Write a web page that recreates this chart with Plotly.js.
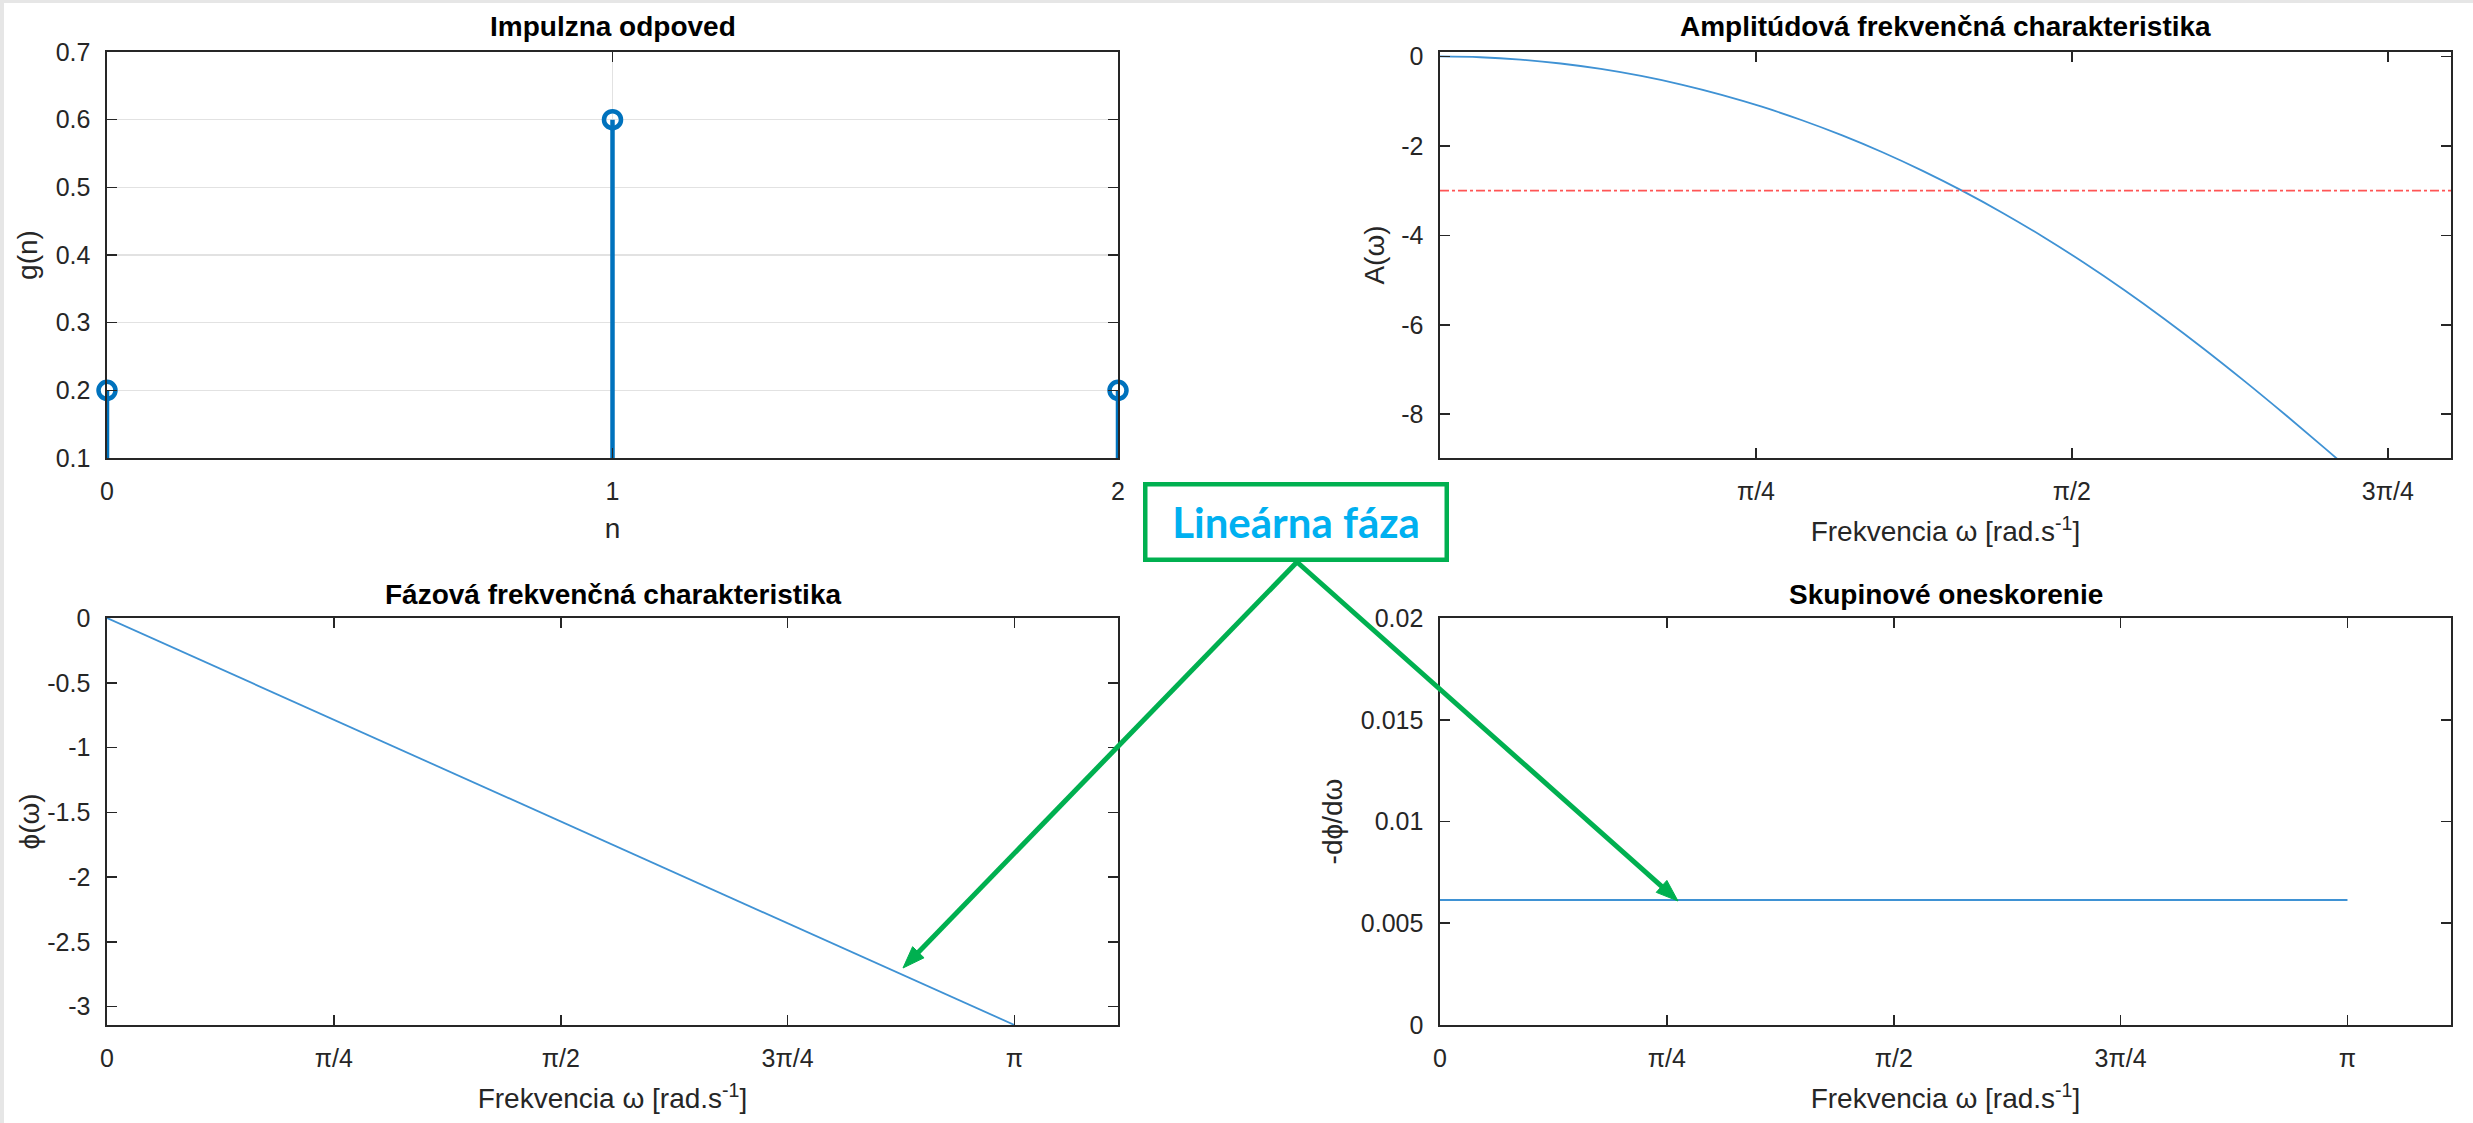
<!DOCTYPE html>
<html>
<head>
<meta charset="utf-8">
<script src="https://cdn.plot.ly/plotly-3.0.1.min.js"></script>
<style>
html,body{margin:0;padding:0;background:#fff;}
#chart{width:2473px;height:1123px;}
</style>
</head>
<body>
<div id="chart"></div>
<script>
// ---- Data ----
// Impulse response g(n)
const nIdx = [0, 1, 2];
const gVals = [0.2, 0.6, 0.2];

// Amplitude response A(omega) in dB
const ampW = [0, 0.1, 0.2, 0.3, 0.4, 0.5, 0.6, 0.7, 0.8, 0.9, 1.0, 1.1, 1.2, 1.3, 1.4, 1.5, 1.6, 1.7, 1.8, 1.9, 2.0, 2.1, 2.2, 2.3];
const ampDb = [0, -0.017, -0.070, -0.157, -0.279, -0.436, -0.629, -0.858, -1.123, -1.426, -1.765, -2.142, -2.558, -3.012, -3.505, -4.037, -4.608, -5.217, -5.864, -6.546, -7.260, -8.001, -8.764, -9.538];
const cutW = [0, 2.5133];
const cutDb = [-3, -3];

// Phase response phi(omega)
const phW = [0, 0.7854, 1.5708, 2.3562, 3.1416];
const phVals = [0, -0.7854, -1.5708, -2.3562, -3.1416];

// Group delay
const gdW = [0, 3.1416];
const gdVals = [0.00614, 0.00614];

// Tick values / labels
const nTicks = [0, 1, 2];
const nTickText = ['0', '1', '2'];
const gTicks = [0.1, 0.2, 0.3, 0.4, 0.5, 0.6, 0.7];
const gTickText = ['0.1', '0.2', '0.3', '0.4', '0.5', '0.6', '0.7'];
const ampXTicks = [0, 0.7854, 1.5708, 2.3562];
const ampXTickText = ['0', 'π/4', 'π/2', '3π/4'];
const ampYTicks = [0, -2, -4, -6, -8];
const ampYTickText = ['0', '-2', '-4', '-6', '-8'];
const wTicks = [0, 0.7854, 1.5708, 2.3562, 3.1416];
const wTickText = ['0', 'π/4', 'π/2', '3π/4', 'π'];
const phYTicks = [0, -0.5, -1, -1.5, -2, -2.5, -3];
const phYTickText = ['0', '-0.5', '-1', '-1.5', '-2', '-2.5', '-3'];
const gdYTicks = [0, 0.005, 0.01, 0.015, 0.02];
const gdYTickText = ['0', '0.005', '0.01', '0.015', '0.02'];

// ---- Build traces ----
const BLUE = '#0072BD';
const LBLUE = '#3f92d4';
const stemX = [], stemY = [];
nIdx.forEach((n, i) => { stemX.push(n, n, null); stemY.push(0, gVals[i], null); });

const traces = [
  {x: stemX, y: stemY, xaxis: 'x', yaxis: 'y', mode: 'lines', line: {color: BLUE, width: 4.5}, hoverinfo: 'skip'},
  {x: nIdx, y: gVals, xaxis: 'x', yaxis: 'y', mode: 'markers', cliponaxis: false,
   marker: {symbol: 'circle-open', size: 17, color: BLUE, line: {width: 4.5, color: BLUE}}},
  {x: ampW, y: ampDb, xaxis: 'x2', yaxis: 'y2', mode: 'lines', line: {color: LBLUE, width: 1.8, shape: 'spline'}},
  {x: cutW, y: cutDb, xaxis: 'x2', yaxis: 'y2', mode: 'lines', line: {color: '#ff5555', width: 1.6, dash: 'dashdot'}},
  {x: phW, y: phVals, xaxis: 'x3', yaxis: 'y3', mode: 'lines', line: {color: LBLUE, width: 1.8}},
  {x: gdW, y: gdVals, xaxis: 'x4', yaxis: 'y4', mode: 'lines', line: {color: LBLUE, width: 2}}
];

// ---- Layout ----
const W = 2473, H = 1123;
const F = 'Liberation Sans, Arial, Helvetica, sans-serif';
const AX = '#262626';
function axis(extra) {
  return Object.assign({
    showline: true, linecolor: AX, linewidth: 1.6, mirror: 'ticks',
    ticks: 'inside', ticklen: 10, tickwidth: 1.6, tickcolor: AX,
    zeroline: false, showgrid: false, tickmode: 'array',
    ticklabelstandoff: 10,
    tickfont: {family: F, size: 25, color: AX}
  }, extra);
}
function ttl(text, standoff) {
  return {text: text, font: {family: F, size: 28, color: AX}, standoff: standoff};
}

const domL = [107 / W, 1118 / W];
const domR = [1440 / W, 2451 / W];
const domT = [1 - 458 / H, 1 - 52 / H];
const domB = [1 - 1025 / H, 1 - 618 / H];

// Callout arrows (pixel positions of tail and head), drawn as shapes
const GREEN = '#00B050';
const arrowTail = [1297, 562];
const arrowHeads = [[903, 968], [1678, 901]];
const arrowShapes = [];
arrowHeads.forEach(h => {
  const dx = h[0] - arrowTail[0], dy = h[1] - arrowTail[1];
  const L = Math.hypot(dx, dy), ux = dx / L, uy = dy / L, px = -uy, py = ux;
  const hl = 22, hw = 8;
  const bx = h[0] - hl * ux, by = h[1] - hl * uy;
  const P = (x, y) => (x / W).toFixed(5) + ',' + (1 - y / H).toFixed(5);
  arrowShapes.push({type: 'line', xref: 'paper', yref: 'paper', x0: arrowTail[0] / W, y0: 1 - arrowTail[1] / H,
    x1: (bx + 2 * ux) / W, y1: 1 - (by + 2 * uy) / H, line: {color: GREEN, width: 5}, layer: 'above'});
  arrowShapes.push({type: 'path', xref: 'paper', yref: 'paper',
    path: 'M' + P(h[0], h[1]) + ' L' + P(bx + hw * px, by + hw * py) + ' L' + P(bx - hw * px, by - hw * py) + ' Z',
    fillcolor: GREEN, line: {color: GREEN, width: 1}, layer: 'above'});
});

const layout = {
  width: W, height: H,
  margin: {l: 0, r: 0, t: 0, b: 0},
  paper_bgcolor: '#ffffff', plot_bgcolor: '#ffffff',
  showlegend: false,
  font: {family: F, color: AX},
  xaxis: axis({domain: domL, anchor: 'y', range: [0, 2], tickvals: nTicks, ticktext: nTickText,
    showgrid: true, gridcolor: '#e2e2e2', gridwidth: 1.2, title: ttl('n', 15)}),
  yaxis: axis({domain: domT, anchor: 'x', range: [0.1, 0.7], tickvals: gTicks, ticktext: gTickText,
    showgrid: true, gridcolor: '#e2e2e2', gridwidth: 1.2, title: ttl('g(n)', 10)}),
  xaxis2: axis({domain: domR, anchor: 'y2', range: [0, 2.5133], tickvals: ampXTicks, ticktext: ampXTickText,
    title: ttl('Frekvencia ω [rad.s<sup>-1</sup>]', 18)}),
  yaxis2: axis({domain: domT, anchor: 'x2', range: [-8.98, 0.1], tickvals: ampYTicks, ticktext: ampYTickText,
    title: ttl('A(ω)', 8)}),
  xaxis3: axis({domain: domL, anchor: 'y3', range: [0, 3.5], tickvals: wTicks, ticktext: wTickText,
    title: ttl('Frekvencia ω [rad.s<sup>-1</sup>]', 18)}),
  yaxis3: axis({domain: domB, anchor: 'x3', range: [-3.1416, 0], tickvals: phYTicks, ticktext: phYTickText}),
  xaxis4: axis({domain: domR, anchor: 'y4', range: [0, 3.5], tickvals: wTicks, ticktext: wTickText,
    title: ttl('Frekvencia ω [rad.s<sup>-1</sup>]', 18)}),
  yaxis4: axis({domain: domB, anchor: 'x4', range: [0, 0.02], tickvals: gdYTicks, ticktext: gdYTickText,
    title: ttl('-dϕ/dω', 10)}),
  shapes: [
    {type: 'rect', xref: 'paper', yref: 'paper', x0: 0, x1: 4 / W, y0: 0, y1: 1, fillcolor: '#e6e6e6', line: {width: 0}, layer: 'above'},
    {type: 'rect', xref: 'paper', yref: 'paper', x0: 0, x1: 1, y0: 1 - 3 / H, y1: 1, fillcolor: '#e6e6e6', line: {width: 0}, layer: 'above'}
  ].concat(arrowShapes),
  annotations: [
    {text: '<b>Impulzna odpoved</b>', xref: 'paper', yref: 'paper', x: 612.5 / W, y: 1 - 27 / H,
     xanchor: 'center', yanchor: 'middle', showarrow: false, font: {family: F, size: 28, color: '#000'}},
    {text: '<b>Amplitúdová frekvenčná charakteristika</b>', xref: 'paper', yref: 'paper', x: 1945.5 / W, y: 1 - 27 / H,
     xanchor: 'center', yanchor: 'middle', showarrow: false, font: {family: F, size: 28, color: '#000'}},
    {text: '<b>Fázová frekvenčná charakteristika</b>', xref: 'paper', yref: 'paper', x: 613 / W, y: 1 - 594 / H,
     xanchor: 'center', yanchor: 'middle', showarrow: false, font: {family: F, size: 28, color: '#000'}},
    {text: '<b>Skupinové oneskorenie</b>', xref: 'paper', yref: 'paper', x: 1945.5 / W, y: 1 - 594 / H,
     xanchor: 'center', yanchor: 'middle', showarrow: false, font: {family: F, size: 28, color: '#000'}},
    // phase y-axis label
    {text: 'ϕ(ω)', xref: 'paper', yref: 'paper', x: 29 / W, y: 1 - 821.5 / H, textangle: -90,
     xanchor: 'center', yanchor: 'middle', showarrow: false, font: {family: F, size: 28, color: AX}},
    // label box
    {text: '<b>Lineárna fáza</b>', xref: 'paper', yref: 'paper', x: 1295.5 / W, y: 1 - 522.5 / H,
     xanchor: 'center', yanchor: 'middle', showarrow: false,
     width: 289, height: 63, borderpad: 4, borderwidth: 4.5, bordercolor: GREEN, bgcolor: '#ffffff',
     font: {family: 'Lato, Open Sans, sans-serif', size: 42, color: '#00B0F0'}}
  ]
};

Plotly.newPlot('chart', traces, layout, {staticPlot: true, displayModeBar: false});
</script>
</body>
</html>
